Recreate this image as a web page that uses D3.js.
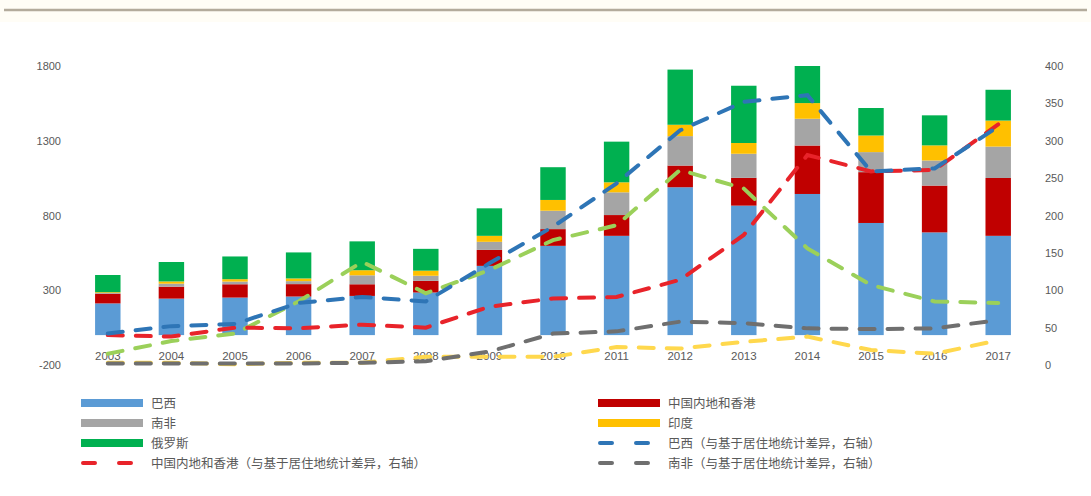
<!DOCTYPE html>
<html><head><meta charset="utf-8">
<script src="https://cdn.jsdelivr.net/npm/d3@7"></script>
<style>
body{margin:0;background:#fff;}
svg{display:block;font-family:"Liberation Sans","Noto Sans CJK SC",sans-serif;}
</style></head>
<body><svg id="c" width="1091" height="496"></svg>
<script>
const years = ["2003","2004","2005","2006","2007","2008","2009","2010","2011","2012","2013","2014","2015","2016","2017"];
// Stacked bars (left axis)
const brazil = [212,244,251,258,262,285,463,597,664,989,866,944,750,687,664];
const china  = [65,80,89,83,78,78,107,112,139,145,186,324,340,313,387];
const southAfrica = [5,20,18,20,60,34,54,123,152,197,161,179,134,168,210];
const india  = [5,15,16,18,34,34,40,72,67,76,72,105,111,101,174];
const russia = [115,130,152,174,193,146,184,219,272,369,383,248,184,201,206];
// Dashed lines (right axis)
const brazilR = [42,52,55,83,91,85,136,185,243,314,352,361,259,263,319];
const chinaR  = [40,38,50,49,54,50,78,89,91,114,174,281,259,261,322];
const southAfricaR = [2,2,2,2,3,5,18,42,45,58,56,49,48,49,60];
const indiaR  = [3,3,1,3,3,11,11,11,24,22,31,38,20,15,33];
const russiaR = [15,32,42,85,138,96,127,167,187,261,236,156,107,85,83];
const leftTicks = [-200,300,800,1300,1800];
const rightTicks = [0,50,100,150,200,250,300,350,400];

const svg = d3.select("#c");
// top rule
svg.append("rect").attr("x",0).attr("y",0).attr("width",1091).attr("height",22).attr("fill","#fffdf6");
svg.append("line").attr("x1",4).attr("x2",1087).attr("y1",10).attr("y2",10)
  .attr("stroke","#b3ab9c").attr("stroke-width",2.5);

const x = d3.scaleBand().domain(years).range([76,1030]).paddingInner(0.6).paddingOuter(0.3);
const yL = d3.scaleLinear().domain([-200,1800]).range([365,66]);
const yR = d3.scaleLinear().domain([0,400]).range([365,66]);

const keys = ["brazil","china","southAfrica","india","russia"];
const colors = {brazil:"#5b9bd5",china:"#c00000",southAfrica:"#a5a5a5",india:"#ffc000",russia:"#00b050"};
const rows = years.map((y,i)=>({year:y,brazil:brazil[i],china:china[i],southAfrica:southAfrica[i],india:india[i],russia:russia[i]}));
const stack = d3.stack().keys(keys)(rows);

svg.append("g").selectAll("g").data(stack).join("g").attr("fill",d=>colors[d.key])
  .selectAll("rect").data(d=>d).join("rect")
  .attr("x",d=>x(d.data.year)).attr("width",x.bandwidth())
  .attr("y",d=>yL(d[1])).attr("height",d=>yL(d[0])-yL(d[1]));

// axes
const fmt = d => String(d);
const axL = d3.axisLeft(yL).tickValues(leftTicks).tickFormat(fmt).tickSize(0).tickPadding(0);
const gL = svg.append("g").attr("transform","translate(61,0)").call(axL);
gL.select(".domain").remove();
gL.selectAll("text").attr("fill","#595959").style("font-size","11px");

const axR = d3.axisRight(yR).tickValues(rightTicks).tickFormat(fmt).tickSize(0).tickPadding(0);
const gR = svg.append("g").attr("transform","translate(1045,0)").call(axR);
gR.select(".domain").remove();
gR.selectAll("text").attr("fill","#595959").style("font-size","11px");

const axX = d3.axisBottom(x).tickSize(0).tickPadding(0);
const gX = svg.append("g").attr("transform","translate(0,352)").call(axX);
gX.select(".domain").remove();
gX.selectAll("text").attr("fill","#595959").style("font-size","11.5px");

// dashed lines
const lines = [
  {vals:russiaR,color:"#9bd05a"},
  {vals:indiaR,color:"#ffd84d"},
  {vals:southAfricaR,color:"#6f6f6f"},
  {vals:chinaR,color:"#e8232a"},
  {vals:brazilR,color:"#2e75b6"}
];
const lineGen = d3.line().x((d,i)=>x(years[i])+x.bandwidth()/2).y(d=>yR(d));
svg.append("g").selectAll("path").data(lines).join("path")
  .attr("d",d=>lineGen(d.vals)).attr("fill","none").attr("stroke",d=>d.color)
  .attr("stroke-width",4).attr("stroke-dasharray","15,13").attr("stroke-linecap","round");

// legend
const legend = [
  {label:"巴西",color:"#5b9bd5",type:"bar",col:0,row:0},
  {label:"南非",color:"#a5a5a5",type:"bar",col:0,row:1},
  {label:"俄罗斯",color:"#00b050",type:"bar",col:0,row:2},
  {label:"中国内地和香港（与基于居住地统计差异，右轴）",color:"#e8232a",type:"dash",col:0,row:3},
  {label:"中国内地和香港",color:"#c00000",type:"bar",col:1,row:0},
  {label:"印度",color:"#ffc000",type:"bar",col:1,row:1},
  {label:"巴西（与基于居住地统计差异，右轴）",color:"#2e75b6",type:"dash",col:1,row:2},
  {label:"南非（与基于居住地统计差异，右轴）",color:"#6f6f6f",type:"dash",col:1,row:3}
];
const colX = [81,598];
const lg = svg.append("g").selectAll("g").data(legend).join("g")
  .attr("transform",d=>`translate(${colX[d.col]},${403+d.row*20})`);
lg.filter(d=>d.type==="bar").append("rect").attr("x",0).attr("y",-4).attr("width",62).attr("height",8).attr("fill",d=>d.color);
lg.filter(d=>d.type==="dash").append("line").attr("x1",2).attr("x2",60).attr("y1",0).attr("y2",0)
  .attr("stroke",d=>d.color).attr("stroke-width",4).attr("stroke-dasharray","12,24").attr("stroke-linecap","round");
lg.append("text").attr("x",70).attr("y",4.5).text(d=>d.label)
  .attr("fill","#595959").style("font-size","12.5px").style("font-family","'Noto Sans CJK SC',sans-serif");
</script></body></html>
